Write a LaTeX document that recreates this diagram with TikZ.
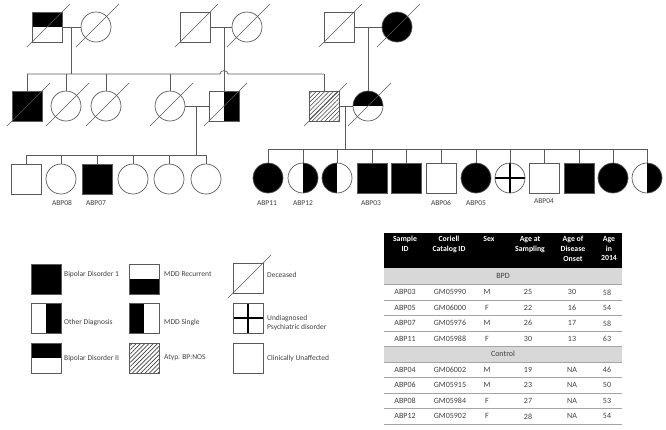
\documentclass[tikz,border=0pt]{standalone}
\usepackage{fontspec}
\setmainfont{Carlito}
\usetikzlibrary{patterns.meta}
\definecolor{ink}{RGB}{90,90,90}
\definecolor{txt}{RGB}{64,64,64}
\definecolor{band}{RGB}{216,216,216}
\definecolor{rule}{RGB}{165,165,165}

\begin{document}
\begin{tikzpicture}[x=1pt, y=-1pt,
    person/.style={draw=ink, line width=0.7pt, minimum size=30pt, inner sep=0pt},
    male/.style={person, rectangle},
    female/.style={person, circle},
    bpone/.style={fill=black},
    bptwo/.style={path picture={\fill[black] (path picture bounding box.north west) rectangle (path picture bounding box.east);}},
    mddrec/.style={path picture={\fill[black] (path picture bounding box.west) rectangle (path picture bounding box.south east);}},
    otherdx/.style={path picture={\fill[black] (path picture bounding box.north) rectangle (path picture bounding box.south east);}},
    mddone/.style={path picture={\fill[black] (path picture bounding box.north west) rectangle (path picture bounding box.south);}},
    atyp/.style={pattern={Lines[angle=45, distance=3pt, line width=0.6pt]}, pattern color=black!75},
    undiag/.style={path picture={\draw[black, line width=1.6pt] (path picture bounding box.north) -- (path picture bounding box.south) (path picture bounding box.west) -- (path picture bounding box.east);}},
    dead/.style={append after command={([shift={(-20,20)}]\tikzlastnode.center) edge[ink, line width=0.5pt] ([shift={(23,-23)}]\tikzlastnode.center)}},
    line/.style={draw=ink, line width=0.7pt},
    tag/.style={text=txt, font=\fontsize{7.5}{9}\selectfont, inner sep=0pt},
    key/.style={text=txt, font=\fontsize{7.5}{9}\selectfont, anchor=west, align=left, inner sep=0pt},
    head/.style={text=white, font=\bfseries\fontsize{7.8}{9.8}\selectfont, anchor=north, align=center, inner sep=0pt},
    cell/.style={text=txt, font=\fontsize{8}{10}\selectfont, inner sep=0pt}
]
    \useasboundingbox (0,0) rectangle (666,429);

    \node[male, bptwo, dead] (ia) at (47,27) {};
    \node[female, dead] (ib) at (96,27) {};
    \node[male, dead] (ic) at (195,27) {};
    \node[female, dead] (id) at (247,27) {};
    \node[male, dead] (ie) at (339,27) {};
    \node[female, bpone, dead] (if) at (397,27) {};

    \node[male, bpone, dead] (iia) at (27,106) {};
    \node[female, dead] (iib) at (66,106) {};
    \node[female, dead] (iic) at (106,106) {};
    \node[female, dead] (iid) at (170,106) {};
    \node[male, otherdx, dead] (iie) at (224,106) {};
    \node[male, atyp, dead] (iif) at (324,106) {};
    \node[female, bptwo, dead] (iig) at (368,106) {};

    \node[male] (iiia) at (26,179) {};
    \node[female] (iiib) at (61,179) {};
    \node[male, bpone] (iiic) at (97,179) {};
    \node[female] (iiid) at (133,179) {};
    \node[female] (iiie) at (169,179) {};
    \node[female] (iiif) at (206,179) {};

    \node[female, bpone] (iiig) at (268,178) {};
    \node[female, otherdx] (iiih) at (303,178) {};
    \node[female, mddone] (iiii) at (337,178) {};
    \node[male, bpone] (iiij) at (372,178) {};
    \node[male, bpone] (iiik) at (406,178) {};
    \node[male] (iiil) at (441,178) {};
    \node[female, bpone] (iiim) at (476,178) {};
    \node[female, undiag] (iiin) at (510,178) {};
    \node[male] (iiio) at (544,178) {};
    \node[male, bpone] (iiip) at (579,178) {};
    \node[female, bpone] (iiiq) at (613,178) {};
    \node[female, otherdx] (iiir) at (647,178) {};

    \node[tag] (t08) at (62,203) {ABP08};
    \node[tag] (t07) at (96,203) {ABP07};
    \node[tag] (t11) at (267,203) {ABP11};
    \node[tag] (t12) at (303,203) {ABP12};
    \node[tag] (t03) at (371,203) {ABP03};
    \node[tag] (t06) at (441,203) {ABP06};
    \node[tag] (t05) at (476,203) {ABP05};
    \node[tag] (t04) at (544,201) {ABP04};

    \coordinate (m1) at (71,27);
    \coordinate (s1) at (71,74);
    \coordinate (sl1) at (27,74);
    \coordinate (sr1) at (324,74);
    \coordinate (m2) at (224,27);
    \coordinate (m3) at (368,27);
    \coordinate (m4) at (196,106);
    \coordinate (s4) at (196,155);
    \coordinate (m5) at (345,106);
    \coordinate (s5) at (345,149);

    \draw[line] (ia) -- (ib);
    \draw[line] (ic) -- (id);
    \draw[line] (ie) -- (if);
    \draw[line] (iid) -- (iie);
    \draw[line] (iif) -- (iig);

    \draw[line] (m1) -- (s1);
    \draw[line] (sl1) -- (220,74) .. controls (220,69.5) and (228,69.5) .. (228,74) -- (sr1);
    \draw[line] (m2) -- (iie.north);
    \draw[line] (m3) -- (iig.north);
    \draw[line] (m4) -- (s4);
    \draw[line] (m5) -- (s5);
    \draw[line] (iiia.north |- s4) -- (iiif.north |- s4);
    \draw[line] (iiig.north |- s5) -- (iiir.north |- s5);
    \foreach \kid in {iia, iib, iic, iid, iif}
        \draw[line] (\kid.north |- sl1) -- (\kid.north);
    \foreach \kid in {iiia, iiib, iiic, iiid, iiie, iiif}
        \draw[line] (\kid.north |- s4) -- (\kid.north);
    \foreach \kid in {iiig, iiih, iiii, iiij, iiik, iiil, iiim, iiin, iiio, iiip, iiiq, iiir}
        \draw[line] (\kid.north |- s5) -- (\kid.north);

    \node[male, bpone] (ka) at (46,279) {};
    \node[male, otherdx] (kb) at (46,318) {};
    \node[male, bptwo] (kc) at (46,358) {};
    \node[male, mddrec] (kd) at (144,279) {};
    \node[male, mddone] (ke) at (144,318) {};
    \node[male, atyp] (kf) at (144,358) {};
    \node[male, dead] (kg) at (248,278) {};
    \node[male, undiag] (kh) at (248,318) {};
    \node[male] (ki) at (248,358) {};

    \node[key] (la) at (64,274) {Bipolar Disorder 1};
    \node[key] (lb) at (64,323) {Other Diagnosis};
    \node[key] (lc) at (64,358) {Bipolar Disorder II};
    \node[key] (ld) at (164,274) {MDD Recurrent};
    \node[key] (le) at (164,323) {MDD Single};
    \node[key] (lf) at (164,358) {Atyp. BP:NOS};
    \node[key] (lg) at (267,275) {Deceased};
    \node[key] (lh) at (267,323) {Undiagnosed\\Psychiatric disorder};
    \node[key] (li) at (267,358) {Clinically Unaffected};

    \fill[black] (384,233) rectangle (622,268);
    \fill[band] (384,268) rectangle (622,284.5);
    \fill[band] (384,346.5) rectangle (622,362);
    \node[head] (hid) at (405,236) {Sample\\ID};
    \node[head] (hcat) at (449,236) {Coriell\\Catalog ID};
    \node[head] (hsex) at (489,236) {Sex};
    \node[head] (hsamp) at (530,236) {Age at\\Sampling};
    \node[head] (hons) at (573,236) {Age of\\Disease\\Onset};
    \node[head] (hage) at (609,236) {Age\\in\\2014};
    \node[cell] (bpd) at (503,276) {BPD};
    \node[cell] (ctrl) at (503,354) {Control};
    \draw[rule, line width=0.8pt] (384,284.5) -- (622,284.5);
    \draw[rule, line width=0.8pt] (384,346.5) -- (622,346.5);
    \draw[rule, line width=0.8pt] (384,362) -- (622,362);

    \foreach \y/\id/\cat/\sx/\samp/\ons/\age in {292.3/ABP03/GM05990/M/25/30/58, 307.8/ABP05/GM06000/F/22/16/54, 323.3/ABP07/GM05976/M/26/17/58, 338.8/ABP11/GM05988/F/30/13/63, 369.8/ABP04/GM06002/M/19/NA/46, 385.3/ABP06/GM05915/M/23/NA/50, 400.8/ABP08/GM05984/F/27/NA/53, 416.3/ABP12/GM05902/F/28/NA/54} {
        \node[cell] (r\id) at (405,\y) {\id};
        \node[cell] (c\id) at (450,\y) {\cat};
        \node[cell] (x\id) at (487,\y) {\sx};
        \node[cell] (s\id) at (528,\y) {\samp};
        \node[cell] (o\id) at (572,\y) {\ons};
        \node[cell] (a\id) at (607,\y) {\age};
        \draw[rule, line width=0.8pt] (384,\y+7.75) -- (622,\y+7.75);
    }
\end{tikzpicture}
\end{document}
